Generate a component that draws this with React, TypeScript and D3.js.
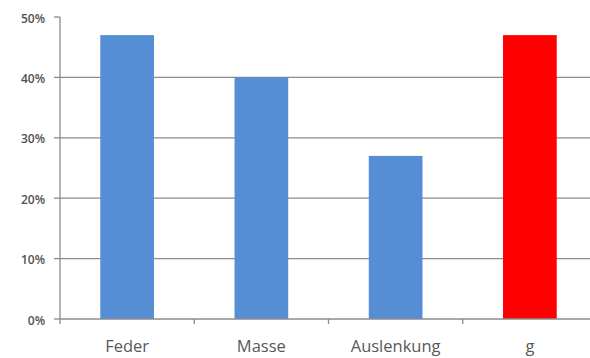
import React from "react";
import * as d3 from "d3";

const categories = ["Feder", "Masse", "Auslenkung", "g"];
const values = [0.47, 0.4, 0.27, 0.47];
const barColors = ["#558ED5", "#558ED5", "#558ED5", "#FF0000"];
const yTicks = [0, 0.1, 0.2, 0.3, 0.4, 0.5];

const W = 590;
const H = 358;
const left = 60;
const right = 597;
const top = 17;
const bottom = 319;

export default function App() {
  const x = d3.scaleBand<string>().domain(categories).range([left, right]).paddingInner(0).paddingOuter(0);
  const y = d3.scaleLinear().domain([0, 0.5]).range([bottom, top]);
  const fmt = d3.format(".0%");
  const bw = x.bandwidth() * 0.4;
  const font = "'Open Sans', 'Liberation Sans', sans-serif";
  return (
    <svg width={W} height={H} style={{ position: "absolute", left: 0, top: 0, background: "#fff" }}>
      {yTicks.map((t) => (
        <g key={t}>
          {t > 0 && t < 0.5 && (
            <line x1={left} x2={W} y1={y(t)} y2={y(t)} stroke="#8c8c8c" strokeWidth={1.3} />
          )}
          <line x1={left - 6} x2={left} y1={y(t)} y2={y(t)} stroke="#8c8c8c" strokeWidth={1.3} />
          <text x={45} y={y(t) + 5.5} textAnchor="end" fontFamily={font} fontSize={12} fontWeight={600} fill="#505050">
            {fmt(t)}
          </text>
        </g>
      ))}
      {categories.map((c, i) => (
        <rect key={c} x={x(c)! + (x.bandwidth() - bw) / 2} y={y(values[i])} width={bw} height={bottom - y(values[i])} fill={barColors[i]} />
      ))}
      <line x1={left} x2={left} y1={top} y2={bottom} stroke="#8c8c8c" strokeWidth={1.3} />
      <line x1={left} x2={W} y1={bottom} y2={bottom} stroke="#8c8c8c" strokeWidth={1.3} />
      {categories.map((c) => (
        <line key={"t" + c} x1={x(c)!} x2={x(c)!} y1={bottom} y2={bottom + 5} stroke="#8c8c8c" strokeWidth={1.3} />
      ))}
      {categories.map((c) => (
        <text key={"l" + c} x={x(c)! + x.bandwidth() / 2} y={352} textAnchor="middle" fontFamily={font} fontSize={16.5} fill="#595959">
          {c}
        </text>
      ))}
    </svg>
  );
}
